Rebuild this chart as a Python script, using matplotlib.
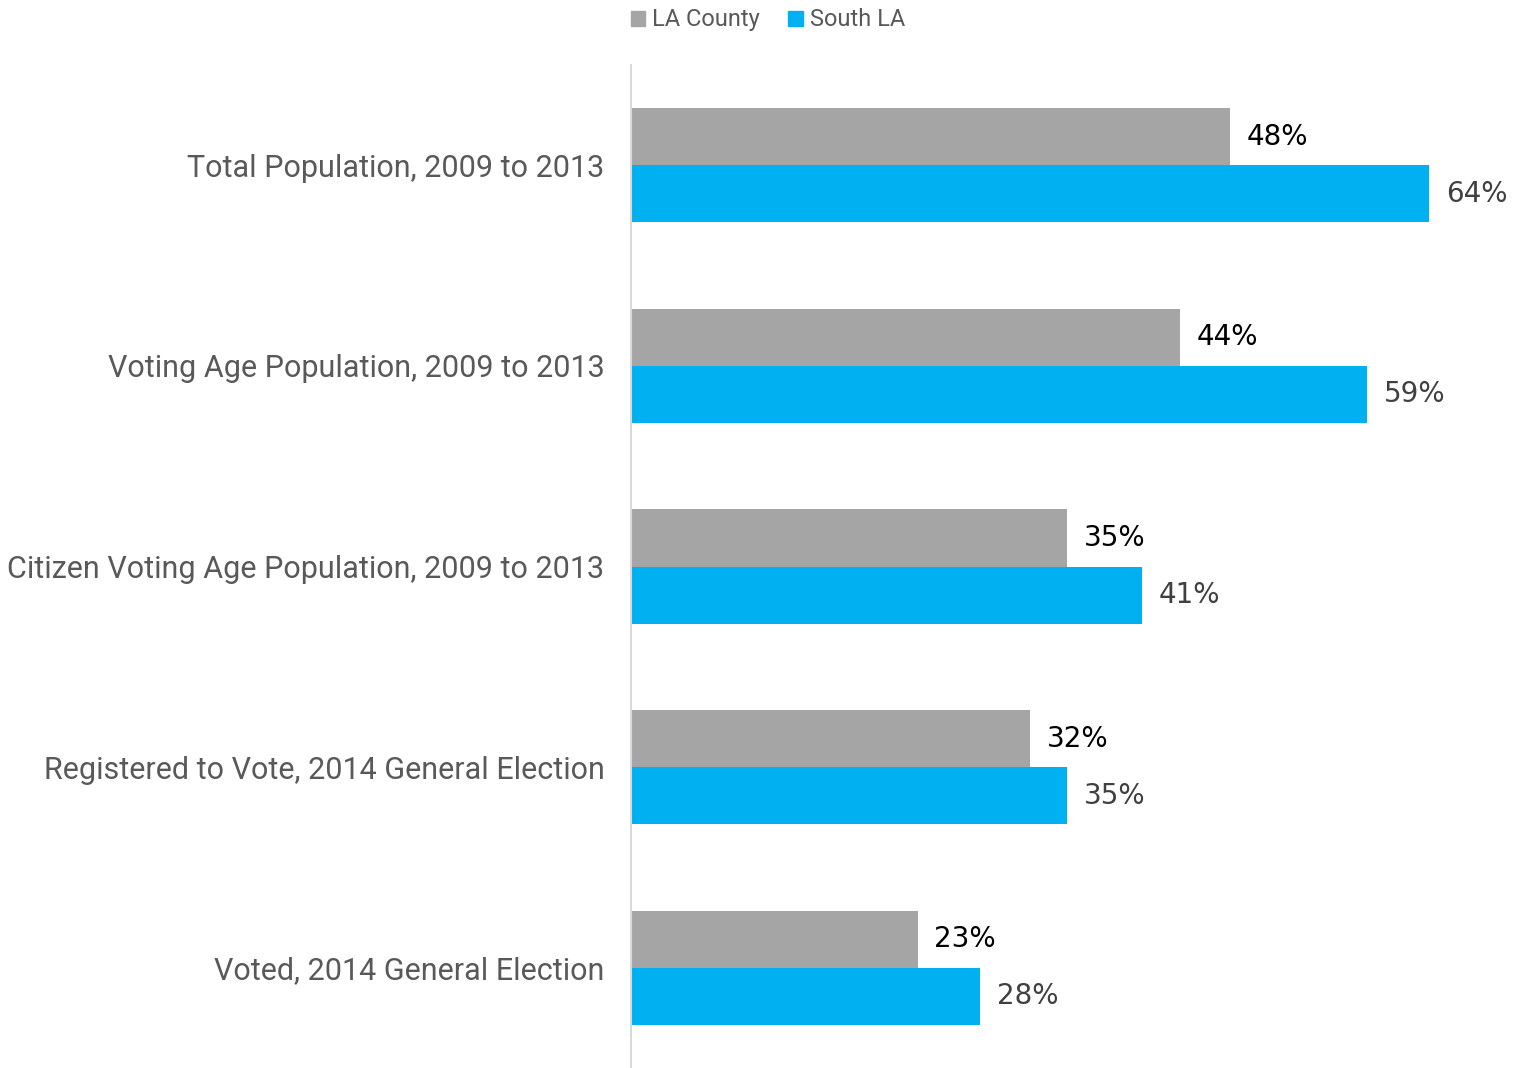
import numpy as np
import matplotlib.pyplot as plt
from matplotlib.patches import Patch

categories = [
    "Total Population, 2009 to 2013",
    "Voting Age Population, 2009 to 2013",
    "Citizen Voting Age Population, 2009 to 2013",
    "Registered to Vote, 2014 General Election",
    "Voted, 2014 General Election",
]
la_county = [48, 44, 35, 32, 23]
south_la = [64, 59, 41, 35, 28]
series_names = ["LA County", "South LA"]

grey = "#A5A5A5"
blue = "#00B0F0"
label_font = ["Liberation Sans Narrow", "Roboto", "DejaVu Sans"]


def main():
    fig = plt.figure(figsize=(15.16, 10.68), dpi=100)
    ax = fig.add_axes([631 / 1516, 0.0, 885 / 1516, 1003 / 1068])

    y = np.arange(len(categories))
    h = 0.285
    b1 = ax.barh(y - h / 2, la_county, height=h, color=grey)
    b2 = ax.barh(y + h / 2, south_la, height=h, color=blue)

    ax.bar_label(b1, labels=["%d%%" % v for v in la_county], padding=12,
                 fontsize=20, color="#000000", family="DejaVu Sans")
    ax.bar_label(b2, labels=["%d%%" % v for v in south_la], padding=12,
                 fontsize=20, color="#404040", family="DejaVu Sans")

    ax.set_xlim(0, 885 / 12.47)
    ax.set_ylim(len(categories) - 0.5, -0.5)
    ax.set_yticks(y)
    ax.set_yticklabels(categories, fontsize=22, color="#595959", family=label_font)
    ax.tick_params(axis="y", length=0, pad=19)
    ax.set_xticks([])

    for side in ["top", "right", "bottom"]:
        ax.spines[side].set_visible(False)
    ax.spines["left"].set_color("#D9D9D9")
    ax.spines["left"].set_linewidth(1.5)

    handles = [Patch(color=grey), Patch(color=blue)]
    fig.legend(handles, series_names, loc="upper center", bbox_to_anchor=(768 / 1516, 1.012),
               ncol=2, frameon=False, handlelength=0.6, handleheight=0.6,
               handletextpad=0.3, columnspacing=1.2,
               prop={"family": label_font, "size": 17}, labelcolor="#595959")

    fig.savefig("out.png", dpi=100)


if __name__ == "__main__":
    main()
